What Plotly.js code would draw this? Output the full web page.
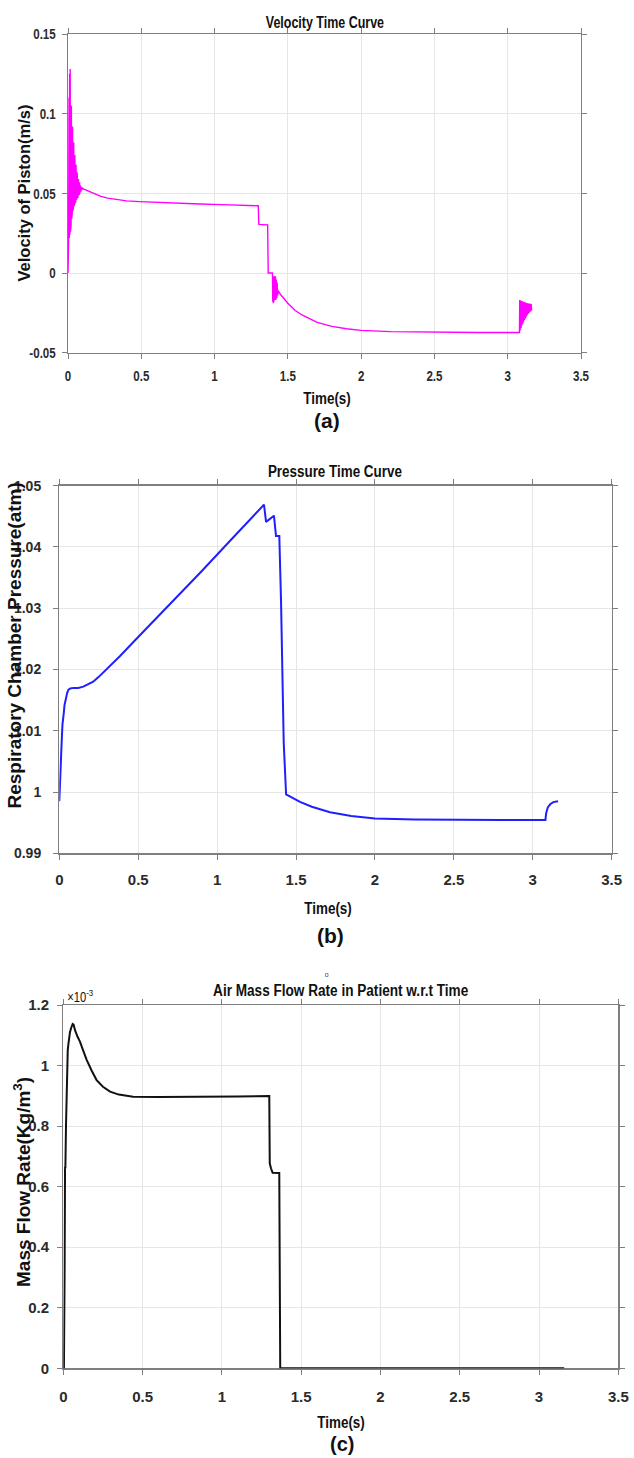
<!DOCTYPE html>
<html>
<head>
<meta charset="utf-8">
<script src="https://cdn.plot.ly/plotly-3.0.1.min.js"></script>
<style>
html,body{margin:0;padding:0;background:#fff;}
#chart{width:634px;height:1458px;}
</style>
</head>
<body>
<div id="chart"></div>
<script>
// ---------------- DATA ----------------
// (a) Velocity of piston (m/s) vs time (s)
const timeVel = [0,0.004,0.007,0.009,0.011,0.013,0.015,0.017,0.019,0.021,0.023,0.025,0.027,0.029,0.031,0.033,0.035,0.037,0.039,0.041,0.043,0.045,0.047,0.049,0.051,0.053,0.055,0.057,0.059,0.061,0.063,0.065,0.067,0.069,0.071,0.073,0.075,0.077,0.079,0.081,0.084,0.087,0.090,0.094,0.098,0.105,
  0.12,0.15,0.18,0.22,0.27,0.33,0.4,0.49,0.6,0.75,0.9,1.05,1.2,1.298,1.302,1.35,1.362,1.366,1.395,
  1.397,1.399,1.401,1.403,1.405,1.407,1.409,1.411,1.413,1.415,1.418,1.421,1.424,1.427,1.430,1.434,
  1.45,1.5,1.55,1.6,1.7,1.8,1.9,2.0,2.2,2.5,2.8,3.075,
  3.080,3.082,3.085,3.088,3.091,3.094,3.097,3.100,3.103,3.106,3.109,3.112,3.115,3.118,3.121,3.124,3.127,3.130,3.133,3.136,3.139,3.142,3.145,3.148,3.151,3.154,3.157,3.160,3.163];
const velocity = [0,0.020,0.110,0.022,0.125,0.024,0.128,0.026,0.118,0.030,0.105,0.034,0.099,0.037,0.092,0.039,0.086,0.041,0.082,0.042,0.078,0.043,0.074,0.044,0.071,0.045,0.068,0.046,0.065,0.047,0.063,0.047,0.061,0.048,0.059,0.049,0.058,0.049,0.057,0.050,0.055,0.051,0.054,0.052,0.0535,0.0528,
  0.0522,0.0510,0.0497,0.0483,0.0470,0.0460,0.0453,0.0448,0.0443,0.0438,0.0433,0.0429,0.0425,0.0422,0.0305,0.0303,0.0302,0.0,0.0,
  -0.018,-0.002,-0.019,-0.003,-0.018,-0.002,-0.018,-0.003,-0.017,-0.002,-0.017,-0.004,-0.016,-0.006,-0.014,-0.011,
  -0.0135,-0.019,-0.0235,-0.0265,-0.031,-0.0335,-0.035,-0.036,-0.0368,-0.0372,-0.0373,-0.0373,
  -0.0373,-0.0170,-0.0360,-0.0172,-0.0345,-0.0175,-0.0330,-0.0177,-0.0318,-0.0180,-0.0305,-0.0182,-0.0295,-0.0184,-0.0285,-0.0186,-0.0275,-0.0188,-0.0265,-0.0190,-0.0257,-0.0191,-0.0250,-0.0192,-0.0245,-0.0193,-0.0240,-0.0194,-0.0235];

// (b) Respiratory chamber pressure (atm) vs time (s)
const timePres = [0,0.006,0.012,0.016,0.02,0.024,0.028,0.033,0.038,0.044,0.05,0.058,0.07,0.09,0.12,0.152,0.18,0.215,0.25,0.30,0.385,0.5,0.7,0.9,1.1,1.297,1.31,1.36,1.373,1.394,1.405,1.413,1.422,1.437,1.48,1.525,1.6,1.715,1.85,2.0,2.25,2.5,2.8,3.08,3.085,3.095,3.11,3.13,3.16];
const pressure = [0.9985,1.0035,1.0075,1.0088,1.0110,1.0126,1.0128,1.0142,1.0150,1.0153,1.0162,1.0167,1.0169,1.0170,1.0170,1.0172,1.0175,1.0180,1.0188,1.0200,1.0222,1.0253,1.0306,1.0360,1.0415,1.0469,1.0441,1.0451,1.0418,1.0418,1.0310,1.0184,1.0080,0.9996,0.9990,0.9984,0.9976,0.9967,0.9961,0.9957,0.99553,0.99546,0.99545,0.99545,0.9966,0.9975,0.9980,0.99835,0.9985];

// (c) Air mass flow rate (x10^-3) vs time (s)
const timeFlow = [0,0.004,0.008,0.011,0.013,0.017,0.021,0.024,0.028,0.032,0.036,0.042,0.05,0.059,0.065,0.075,0.09,0.105,0.125,0.148,0.18,0.21,0.25,0.295,0.35,0.44,0.6,0.862,1.1,1.299,1.302,1.31,1.32,1.362,1.368,3.159];
const massFlow_e3 = [0,0,0.30,0.666,0.66,0.80,0.952,0.96,1.05,1.07,1.09,1.11,1.125,1.137,1.135,1.115,1.095,1.079,1.05,1.018,0.982,0.952,0.930,0.914,0.904,0.897,0.896,0.896,0.898,0.899,0.677,0.660,0.646,0.645,0,0];

// Tick labels
const xTickVals = [0,0.5,1,1.5,2,2.5,3,3.5];
const xTickText = ["0","0.5","1","1.5","2","2.5","3","3.5"];
const velTickVals = [-0.05,0,0.05,0.1,0.15];
const velTickText = ["-0.05","0","0.05","0.1","0.15"];
const presTickVals = [0.99,1,1.01,1.02,1.03,1.04,1.05];
const presTickText = ["0.99","1","1.01","1.02","1.03","1.04","1.05"];
const flowTickVals = [0,0.2,0.4,0.6,0.8,1,1.2];
const flowTickText = ["0","0.2","0.4","0.6","0.8","1","1.2"];

// Text
const titles = ["Velocity Time Curve","Pressure Time Curve","Air Mass Flow Rate in Patient w.r.t Time"];
const yTitles = ["Velocity of Piston(m/s)","Respiratory Chamber Pressure(atm)","Mass Flow Rate(Kg/m<sup>3</sup>)"];
const xTitle = "Time(s)";
const panelLabels = ["(a)","(b)","(c)"];

// ---------------- LAYOUT ----------------
const W = 634, H = 1458;
const px = v => v / W;
const py = v => 1 - v / H;

const ARIAL = "'Liberation Sans', Arial, sans-serif";

// plot boxes in pixels: [left, right, top, bottom]
const boxes = [[68, 581, 34, 352.7],[59.3, 611.7, 485.7, 853.3],[63.3, 618.3, 1005, 1368.3]];

function tickFont(size){ return {family:ARIAL, size:size, color:'#2b2b2b', weight:'bold'}; }

function xAxis(i, standoff){
  const b = boxes[i];
  return {
    domain:[px(b[0]), px(b[1])], anchor: i===0?'y':'y'+(i+1),
    range:[0,3.5], tickvals:xTickVals, ticktext:xTickText,
    showgrid:true, gridcolor:'#e6e6e6', gridwidth:1, zeroline:false,
    showline:true, linecolor:'#7f7f7f', linewidth:1.3, mirror:'ticks',
    ticks:'outside', ticklen:5, tickcolor:'#7f7f7f', tickwidth:1,
    tickfont:tickFont(15), ticklabelstandoff: standoff, fixedrange:true,
    layer: i===2 ? 'below traces' : 'above traces'
  };
}
function yAxis(i, vals, text, range, standoff, fs){
  const b = boxes[i];
  return {
    domain:[py(b[3]), py(b[2])], anchor: i===0?'x':'x'+(i+1),
    range:range, tickvals:vals, ticktext:text,
    showgrid:true, gridcolor:'#e6e6e6', gridwidth:1, zeroline:false,
    showline:true, linecolor:'#7f7f7f', linewidth:1.3, mirror:'ticks',
    ticks:'outside', ticklen:5, tickcolor:'#7f7f7f', tickwidth:1,
    tickfont:tickFont(fs), ticklabelstandoff: standoff, fixedrange:true,
    layer: 'below traces'
  };
}

const traces = [
  {x:timeVel, y:velocity, xaxis:'x', yaxis:'y', type:'scatter', mode:'lines',
   line:{color:'#ff00ff', width:1.4}, cliponaxis:false, hoverinfo:'skip'},
  {x:timePres, y:pressure, xaxis:'x2', yaxis:'y2', type:'scatter', mode:'lines',
   line:{color:'#1f1fff', width:2}, cliponaxis:false, hoverinfo:'skip'},
  {x:timeFlow, y:massFlow_e3, xaxis:'x3', yaxis:'y3', type:'scatter', mode:'lines',
   line:{color:'#111111', width:2}, cliponaxis:false, hoverinfo:'skip'}
];

function ann(text, x, y, size, opts){
  return Object.assign({text:text, x:px(x), y:py(y), xref:'paper', yref:'paper',
    showarrow:false, xanchor:'center', yanchor:'middle', borderpad:0,
    font:{family:ARIAL, size:size, color:'#111'}}, opts||{});
}

// horizontal squeeze factor per annotation (1 = none)
const annSqueeze = [0.78,0.79,0.8,0.79,0.79,0.79,1,1,1,1,1,1,0.8];
const annotations = [
  ann('<b>'+titles[0]+'</b>', 324.5, 22.5, 16),
  ann('<b>'+titles[1]+'</b>', 335, 471, 17),
  ann('<b>'+titles[2]+'</b>', 340.6, 990, 17),
  ann('<b>'+xTitle+'</b>', 327, 398, 17),
  ann('<b>'+xTitle+'</b>', 328, 908, 17),
  ann('<b>'+xTitle+'</b>', 341, 1422, 17),
  ann('<b>'+panelLabels[0]+'</b>', 327, 420, 21),
  ann('<b>'+panelLabels[1]+'</b>', 330, 935, 21),
  ann('<b>'+panelLabels[2]+'</b>', 342, 1443.5, 20),
  ann('<b>'+yTitles[0]+'</b>', 23, 193.5, 16.5, {textangle:-90}),
  ann('<b>'+yTitles[1]+'</b>', 13.5, 646, 19, {textangle:-90}),
  ann('<b>'+yTitles[2]+'</b>', 22, 1182, 19, {textangle:-90}),
  ann('×10<sup>-3</sup>', 63, 996, 14, {xanchor:'left'})
];

const layout = {
  width:W, height:H, margin:{l:0,r:0,t:0,b:0},
  paper_bgcolor:'#ffffff', plot_bgcolor:'#ffffff', showlegend:false,
  xaxis: xAxis(0, 4), xaxis2: xAxis(1, 7), xaxis3: xAxis(2, 9),
  yaxis: yAxis(0, velTickVals, velTickText, [-0.05,0.15], 3, 15),
  yaxis2: yAxis(1, presTickVals, presTickText, [0.99,1.05], 9, 14),
  yaxis3: yAxis(2, flowTickVals, flowTickText, [0,1.2], 5, 15),
  annotations: annotations,
  shapes:[{type:'rect', xref:'paper', yref:'paper', x0:px(325.5), x1:px(328), y0:py(976.5), y1:py(973.5),
           line:{color:'#5b9bd5', width:1}, fillcolor:'rgba(0,0,0,0)'}]
};

function squeeze(el, s){
  if (s === 1) return;
  const x = parseFloat(el.getAttribute('x')) || 0;
  const y = parseFloat(el.getAttribute('y')) || 0;
  const t = el.getAttribute('transform') || '';
  el.setAttribute('transform', t + ' translate(' + x + ',' + y + ') scale(' + s + ',1) translate(' + (-x) + ',' + (-y) + ')');
}

Plotly.newPlot('chart', traces, layout, {staticPlot:true, displayModeBar:false}).then(function(){
  document.querySelectorAll('#chart .xtick text, #chart .ytick text').forEach(function(t){ squeeze(t, 0.77); });
  const groups = document.querySelectorAll('#chart .annotation-text');
  groups.forEach(function(t, i){ if (annSqueeze[i] !== undefined) squeeze(t, annSqueeze[i]); });
});
</script>
</body>
</html>
